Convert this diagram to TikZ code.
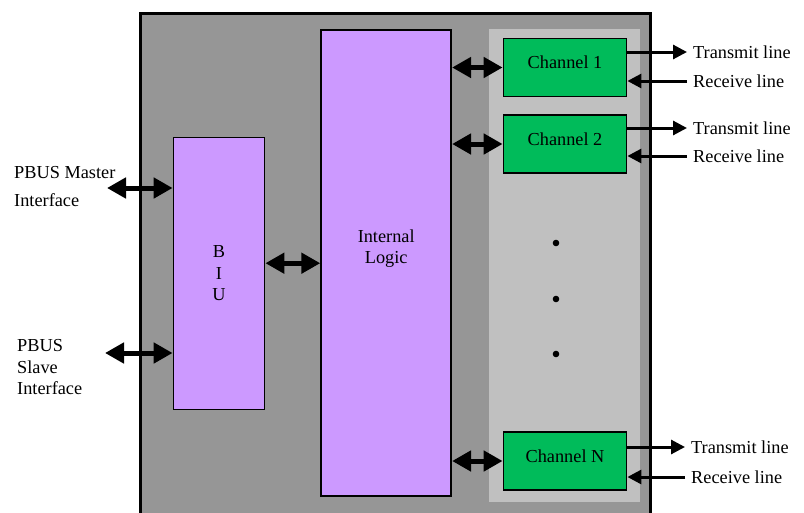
\documentclass[tikz,border=0pt]{standalone}
\usepackage{fontspec}
\setmainfont{Liberation Serif}
\usetikzlibrary{arrows.meta}

\definecolor{chipgray}{RGB}{150,150,150}
\definecolor{panelgray}{RGB}{192,192,192}
\definecolor{blockpurple}{RGB}{204,153,255}
\definecolor{changreen}{RGB}{0,187,90}

\begin{document}
\begin{tikzpicture}[x=1pt, y=-1pt,
  every node/.style={font=\fontsize{18.3}{21.5}\selectfont},
  block/.style={draw, line width=1.8pt, fill=blockpurple, inner sep=0pt, align=center},
  chan/.style={draw, line width=1.8pt, fill=changreen, minimum width=123pt, minimum height=58pt, text height=13pt, text depth=11pt},
  busarrow/.style={line width=5pt, {Triangle[length=19pt,width=20pt]}-{Triangle[length=19pt,width=20pt]}},
  linearrow/.style={line width=3pt, -{Triangle[length=14pt,width=14pt]}},
  txt/.style={inner xsep=6pt, inner ysep=0pt, anchor=west, align=left}]
\useasboundingbox (0,0) rectangle (804,512);

\draw [line width=3pt, fill=chipgray] (140.5,13.5) rectangle (650.5,530);
\fill [panelgray] (489,29) rectangle (640,502);

\node[block, minimum width=91pt, minimum height=272pt] (biu) at (219,273.5) {B\\I\\U};
\node[block, minimum width=130pt, minimum height=466pt] (logic) at (386.2,263.2) {};
\node[align=center] at ([yshift=14.5pt]logic.center) {Internal\\Logic};

\node[chan] (ch1) at (565,67.5) {Channel 1};
\node[chan] (ch2) at (565,144) {Channel 2};
\node[chan] (chN) at (565,461) {Channel N};

\foreach \y in {243,299,354}
  \fill (556,\y) circle (3.3pt);

% bus side
\node[txt, inner xsep=0pt] (mstr) at (14,187) {PBUS Master\\[6.5pt]Interface};
\node[txt, inner xsep=0pt] (slv) at (17,367.5) {PBUS\\Slave\\Interface};
\coordinate (mstrend) at (107,188);
\coordinate (slvend) at (105,353);
\draw [busarrow] (mstrend) -- (mstrend -| biu.west);
\draw [busarrow] (slvend) -- (slvend -| biu.west);
\draw [busarrow] (biu.east |- logic.west) -- (logic.west);

% channel lines
\foreach \c/\t/\r/\x in {ch1/52/81/693, ch2/128/156/693, chN/447/477/691} {
  \draw [busarrow] (logic.east |- \c.west) -- (\c.west);
  \node[txt] (tx\c) at (\x-6,\t) {Transmit line};
  \node[txt] (rx\c) at (\x-6,\r) {Receive line};
  \draw [linearrow] (\c.east |- tx\c.west) -- (tx\c.west);
  \draw [linearrow] (rx\c.west) -- (rx\c.west -| \c.east);
}

\end{tikzpicture}
\end{document}
